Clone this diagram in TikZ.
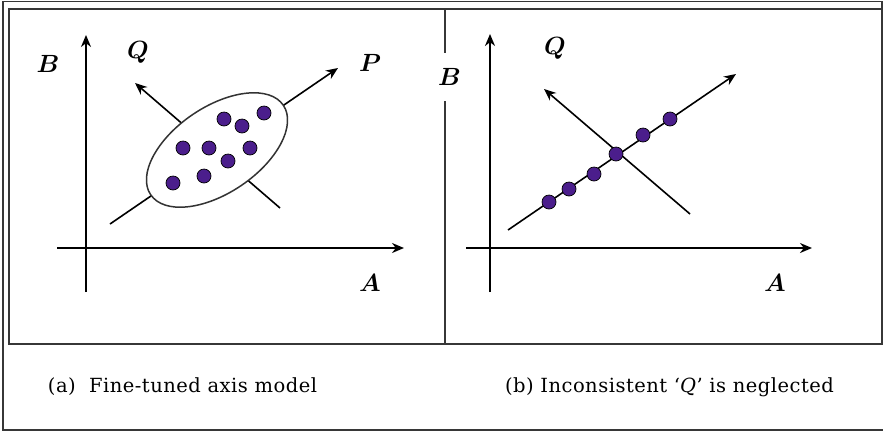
\documentclass[tikz,border=0pt]{standalone}
\usepackage{fontspec}
\usetikzlibrary{arrows.meta,shapes.geometric}

\newfontfamily\capfont[LetterSpace=2.5]{DejaVu Serif}
\definecolor{dotpurple}{RGB}{75,30,140}
\definecolor{framegray}{RGB}{55,55,55}

\begin{document}
\begin{tikzpicture}[x=1pt, y=-1pt,
	frame/.style={draw=framegray, line width=1.6pt},
	axisline/.style={draw=black, line width=2pt, -{Stealth[length=12pt,width=10pt]}},
	pqline/.style={axisline, line width=1.6pt},
	pdot/.style={circle, draw=black, line width=0.7pt, fill=dotpurple, minimum size=14pt, inner sep=0pt},
	axlbl/.style={font=\fontsize{23}{26}\selectfont\boldmath, inner sep=1pt},
	caplbl/.style={font=\capfont\fontsize{19.5}{22}\selectfont}]

	\useasboundingbox (0,0) rectangle (883,432);

	% frames
	\coordinate (oTL) at (3,1.5);
	\coordinate (oTR) at (882,1.5);
	\coordinate (oBL) at (3,430);
	\coordinate (oBR) at (883,430);
	\coordinate (iTL) at (9,9);
	\coordinate (iBR) at (882,344);
	\coordinate (dTop) at (445,9);
	\coordinate (dBot) at (445,344);
	\draw[frame] (oBR) -- (oBL) -- (oTL) -- (oTR) -- (iBR);
	\draw[frame] (iTL) rectangle (iBR);
	\draw[frame] (dTop) -- (dBot);

	% (a) fine-tuned axis
	\coordinate (aB0) at (86,292);
	\coordinate (aB1) at (86,35);
	\coordinate (aA0) at (57,248);
	\coordinate (aA1) at (404,248);
	\coordinate (aP0) at (110,224);
	\coordinate (aP1) at (338,68);
	\coordinate (aQ0) at (280,208);
	\coordinate (aQ1) at (135,83);

	\path
	(aB0) edge[axisline] (aB1)
	(aA0) edge[axisline] (aA1)
	(aP0) edge[pqline] (aP1)
	(aQ0) edge[pqline] (aQ1);

	\node (cloud) [ellipse, draw=black!80, line width=1.5pt, fill=white, minimum width=160pt, minimum height=86pt, inner sep=0pt, rotate=34] at (217,150) {};

	\node (a1) [pdot] at (173,183) {};
	\node (a2) [pdot] at (204,176) {};
	\node (a3) [pdot] at (183,148) {};
	\node (a4) [pdot] at (209,148) {};
	\node (a5) [pdot] at (228,161) {};
	\node (a6) [pdot] at (250,148) {};
	\node (a7) [pdot] at (224,119) {};
	\node (a8) [pdot] at (242,126) {};
	\node (a9) [pdot] at (264,113) {};

	\node (aB) [axlbl] at (48,64) {$B$};
	\node (aQ) [axlbl] at (138,52) {$Q$};
	\node (aP) [axlbl] at (370,63) {$P$};
	\node (aA) [axlbl] at (370,283) {$A$};

	% (b) inconsistent Q
	\coordinate (bB0) at (490,292);
	\coordinate (bB1) at (490,34);
	\coordinate (bA0) at (466,248);
	\coordinate (bA1) at (812,248);
	\coordinate (bP0) at (508,230);
	\coordinate (bP1) at (736,74);
	\coordinate (bQ0) at (690,214);
	\coordinate (bQ1) at (544,89);

	\path
	(bB0) edge[axisline] (bB1)
	(bA0) edge[axisline] (bA1)
	(bP0) edge[pqline] (bP1)
	(bQ0) edge[pqline] (bQ1);

	\node (b1) [pdot] at (549,202) {};
	\node (b2) [pdot] at (569,189) {};
	\node (b3) [pdot] at (594,174) {};
	\node (b4) [pdot] at (616,154) {};
	\node (b5) [pdot] at (643,135) {};
	\node (b6) [pdot] at (670,119) {};

	\node (bB) [axlbl, fill=white, minimum height=48pt] at (449.5,77) {$B$};
	\node (bQ) [axlbl] at (555,48) {$Q$};
	\node (bA) [axlbl] at (775,283) {$A$};

	% captions
	\node (capA) [caplbl] at (182.5,387) {(a)\ \ Fine-tuned axis model};
	\node (capB) [caplbl] at (669.5,387) {(b) Inconsistent ‘\textit{Q}’ is neglected};

\end{tikzpicture}
\end{document}
